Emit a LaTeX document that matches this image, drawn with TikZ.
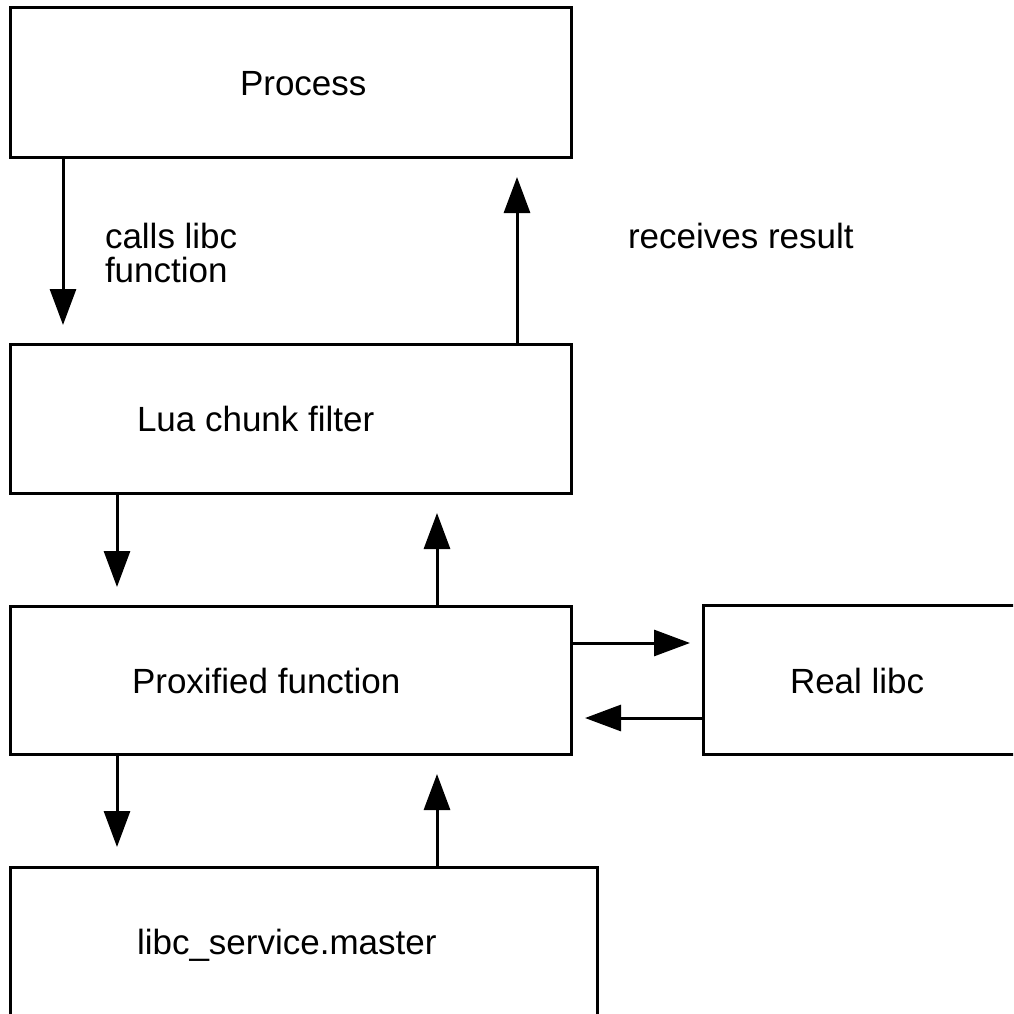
\documentclass[tikz,border=0pt]{standalone}
\usepackage{fontspec}
\setmainfont{Liberation Sans}
\usetikzlibrary{arrows.meta}
\begin{document}
\begin{tikzpicture}[x=1pt,y=-1pt,
  box/.style={draw=black,line width=3pt,rectangle,inner sep=0pt,outer sep=0pt,fill=none},
  lbl/.style={inner sep=0pt,outer sep=0pt,anchor=base west,font=\fontsize{35}{34}\selectfont,align=left},
  arr/.style={line width=3pt,-{Triangle[length=36pt,width=26pt]}}]
\useasboundingbox (0,0) rectangle (1013,1014);
\clip (0,0) rectangle (1013,1014);
\fill[white] (0,0) rectangle (1013,1014);
% boxes
\node[box,minimum width=561pt,minimum height=149pt] (process) at (290.5,82.5) {};
\node[box,minimum width=561pt,minimum height=149pt] (lua) at (290.5,418.5) {};
\node[box,minimum width=561pt,minimum height=148pt] (proxy) at (290.5,680) {};
\node[box,minimum width=561pt,minimum height=149pt] (real) at (983.5,680) {};
\node[box,minimum width=587pt,minimum height=149pt] (svc) at (303.5,941.5) {};
% labels
\node[lbl] (tprocess) at (240,95.7) {Process};
\node[lbl] (tlua) at (137,431.5) {Lua chunk filter};
\node[lbl] (tproxy) at (132,693) {Proxified function};
\node[lbl] (treal) at (790,693) {Real libc};
\node[lbl] (tsvc) at (137,954.5) {libc\_service.master};
\node[lbl] (tcalls) at (105,282) {calls libc\\function};
\node[lbl] (trecv) at (628,248) {receives result};
% arrow tips
\coordinate (t1) at (63,325);
\coordinate (t2) at (517,177);
\coordinate (t3) at (117,587);
\coordinate (t4) at (437,513);
\coordinate (t5) at (690,643);
\coordinate (t6) at (585,718);
\coordinate (t7) at (117,847);
\coordinate (t8) at (437,774);
% connectors
\draw[arr] (process.south -| t1) -- (t1);
\draw[arr] (lua.north -| t2) -- (t2);
\draw[arr] (lua.south -| t3) -- (t3);
\draw[arr] (proxy.north -| t4) -- (t4);
\draw[arr] (proxy.east |- t5) -- (t5);
\draw[arr] (real.west |- t6) -- (t6);
\draw[arr] (proxy.south -| t7) -- (t7);
\draw[arr] (svc.north -| t8) -- (t8);
\end{tikzpicture}
\end{document}
